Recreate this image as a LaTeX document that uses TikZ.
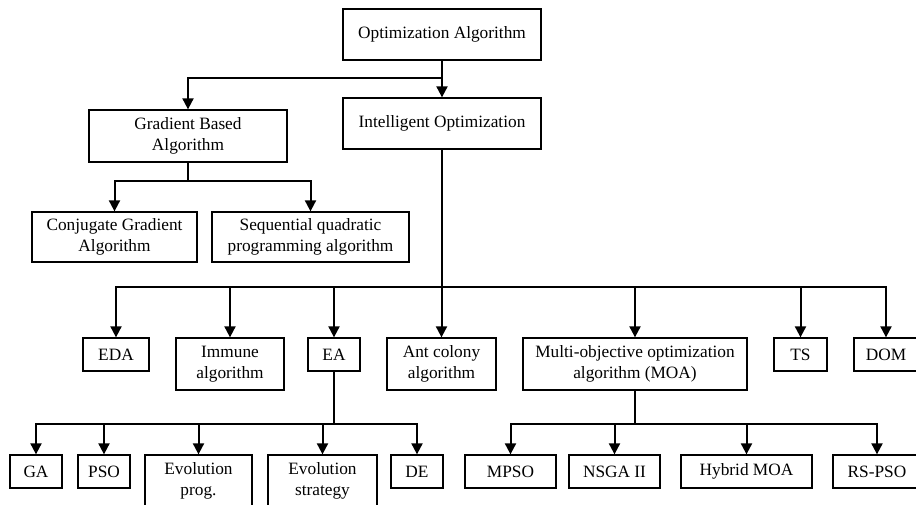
\documentclass[tikz,border=0pt]{standalone}
\usepackage{fontspec}
\setmainfont{Liberation Serif}
\usepackage{tikz}
\usetikzlibrary{arrows.meta,positioning,calc}
\usepackage{xcolor}

\begin{document}
\begin{tikzpicture}[x=1pt,y=-1pt,
    algbox/.style={draw,line width=1.3pt,align=center,inner sep=0pt,minimum height=33pt,
        font=\fontsize{17.3}{21.5}\selectfont},
    twoline/.style={algbox,minimum height=52pt},
    arr/.style={line width=2pt,-{Triangle[width=11pt,length=11pt]}},
    bus/.style={line width=2pt}]
                    \useasboundingbox (0,0) rectangle (916,505);
                    \clip (0,0) rectangle (916,505);
                    % top levels
                    \node[twoline,minimum width=198pt,minimum height=51pt] (opt) at (442,34.5) {Optimization Algorithm};
                    \node[twoline,minimum width=198pt] (grad) at (188,136) {Gradient Based\\Algorithm};
                    \node[twoline,minimum width=198pt,minimum height=51pt] (intel) at (442,123.5) {Intelligent Optimization};
                    \node[twoline,minimum width=165pt,minimum height=50pt] (conj) at (114.5,237) {Conjugate Gradient\\Algorithm};
                    \node[twoline,minimum width=197pt,minimum height=50pt] (sqp) at (310.5,237) {Sequential quadratic\\programming algorithm};
                    % intelligent optimization family
                    \node[algbox,minimum width=66pt] (eda) at (116,354.5) {EDA};
                    \node[twoline,minimum width=108pt] (immune) at (230,364) {Immune\\algorithm};
                    \node[algbox,minimum width=52pt] (ea) at (334,354.5) {EA};
                    \node[twoline,minimum width=109pt] (ant) at (441.5,364) {Ant colony\\algorithm};
                    \node[twoline,minimum width=224pt] (moa) at (635,364) {Multi-objective optimization\\algorithm (MOA)};
                    \node[algbox,minimum width=53pt] (ts) at (800.5,354.5) {TS};
                    \node[algbox,minimum width=64pt] (dom) at (886,354.5) {DOM};
                    % EA family
                    \node[algbox,minimum width=52pt] (ga) at (36,471.5) {GA};
                    \node[algbox,minimum width=52pt] (pso) at (104,471.5) {PSO};
                    \node[twoline,minimum width=107pt] (evp) at (198.5,481) {Evolution\\prog.};
                    \node[twoline,minimum width=109pt] (evs) at (322.5,481) {Evolution\\strategy};
                    \node[algbox,minimum width=52pt] (de) at (417,471.5) {DE};
                    % MOA family
                    \node[algbox,minimum width=91pt] (mpso) at (510.5,471.5) {MPSO};
                    \node[algbox,minimum width=91pt] (nsga) at (614.5,471.5) {NSGA II};
                    \node[algbox,minimum width=131pt] (hyb) at (746.5,471.5) {Hybrid MOA};
                    \node[algbox,minimum width=88pt] (rspso) at (877,471.5) {RS-PSO};
                    % bus points
                    \coordinate (b1) at (opt.south |- 0,78);
                    \coordinate (b2) at (grad.south |- 0,181);
                    \coordinate (b3) at (intel.south |- 0,287);
                    \coordinate (b4) at (ea.south |- 0,424);
                    \coordinate (b5) at (moa.south |- 0,424);
                    % connectors
                    \draw[bus] (opt.south) -- (b1);
                    \draw[arr] (b1) -| (grad.north);
                    \draw[arr] (b1) -- (intel.north);
                    \draw[bus] (grad.south) -- (b2);
                    \draw[arr] (b2) -| (conj.north);
                    \draw[arr] (b2) -| (sqp.north);
                    \draw[bus] (intel.south) -- (b3);
                    \foreach \n in {eda,immune,ea,ant,moa,ts,dom}
                        \draw[arr] (b3) -| (\n.north);
                    \draw[bus] (ea.south) -- (b4);
                    \foreach \n in {ga,pso,evp,evs,de}
                        \draw[arr] (b4) -| (\n.north);
                    \draw[bus] (moa.south) -- (b5);
                    \foreach \n in {mpso,nsga,hyb,rspso}
                        \draw[arr] (b5) -| (\n.north);
                \end{tikzpicture}
\end{document}
